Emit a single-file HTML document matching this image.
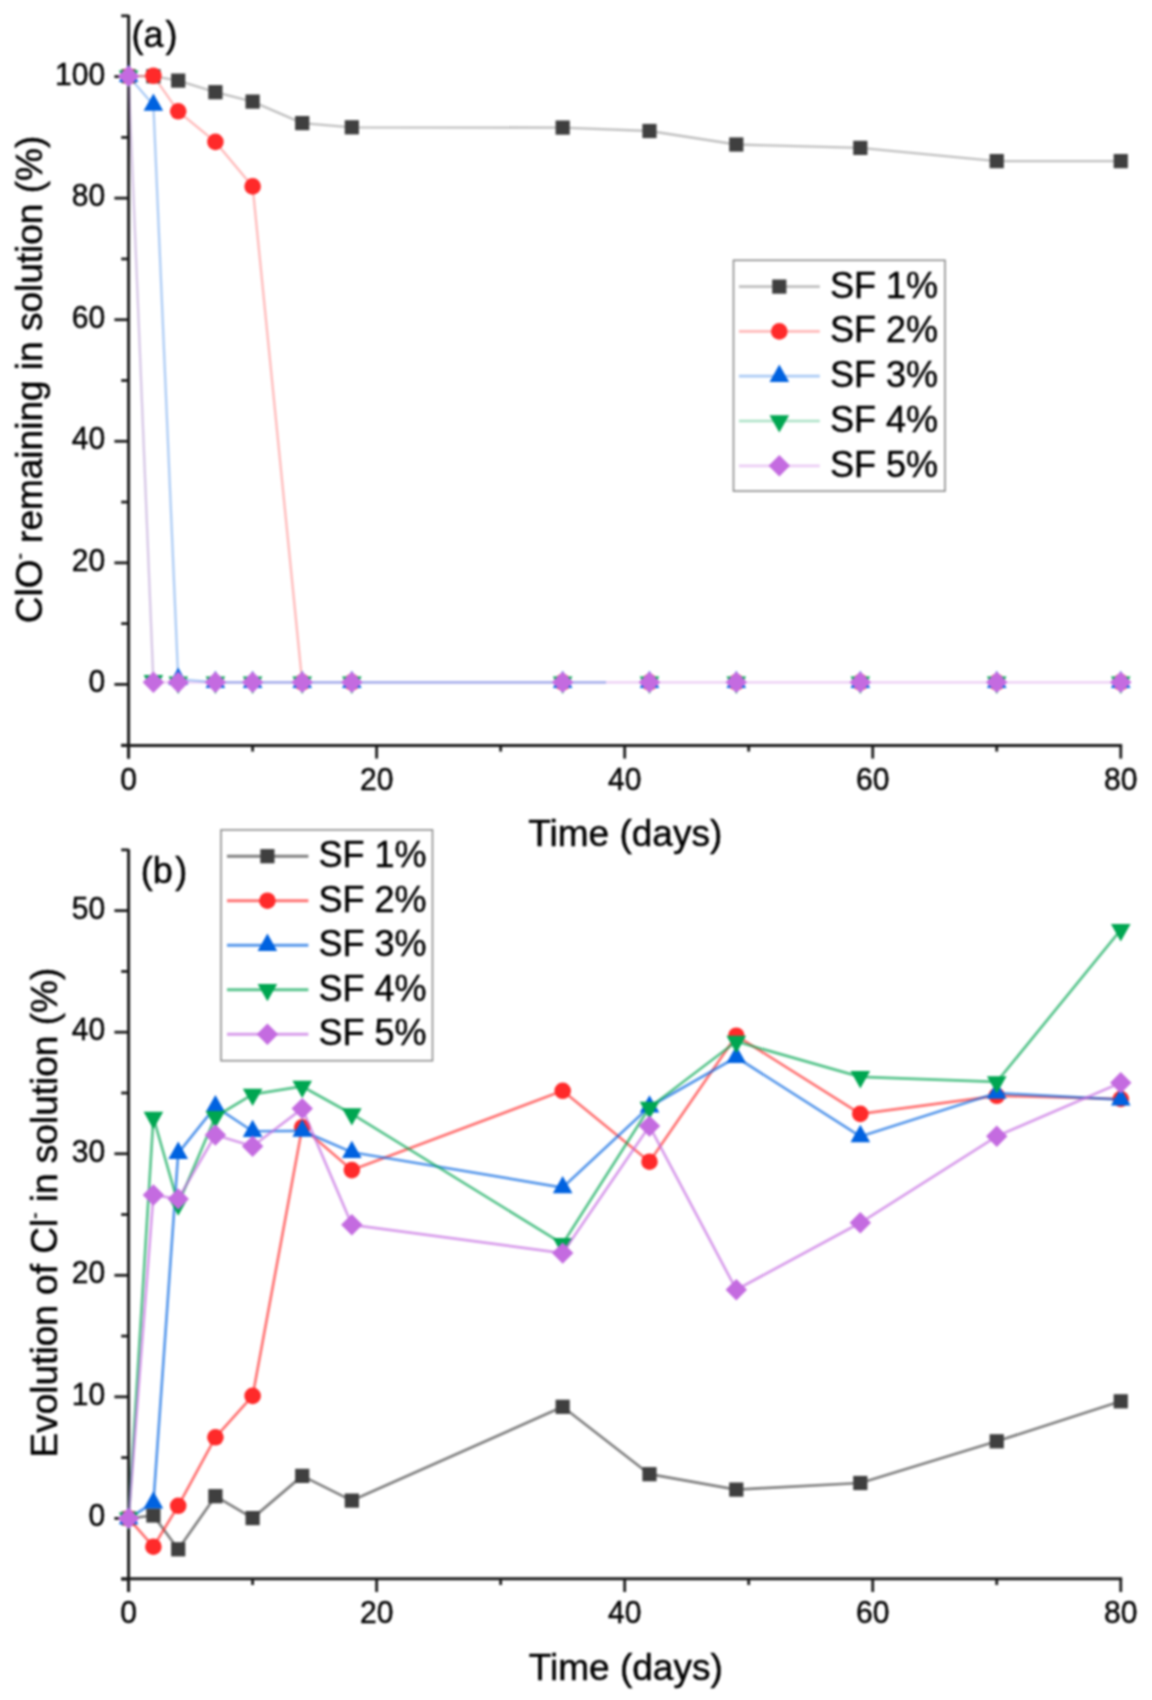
<!DOCTYPE html>
<html><head><meta charset="utf-8"><style>
html,body{margin:0;padding:0;background:#fff;}
svg{display:block;filter:blur(0.85px);}
text{font-family:"Liberation Sans",sans-serif;fill:#000;stroke:#000;stroke-width:0.45px;}
.t{font-size:31.6px;}
.lg{font-size:36px;}
.lab{font-size:36px;}
.ttl{font-size:37px;}
.ytl{font-size:37px;}
</style></head><body>
<svg width="1152" height="1700" viewBox="0 0 1152 1700">
<rect width="1152" height="1700" fill="#fff"/>
<line x1="128.6" y1="15.0" x2="128.6" y2="758.6" stroke="#1c1c1c" stroke-width="3.0"/>
<line x1="121.19999999999999" y1="745.4" x2="1122.16" y2="745.4" stroke="#1c1c1c" stroke-width="3.0"/>
<line x1="121.19999999999999" y1="745.18" x2="128.6" y2="745.18" stroke="#1c1c1c" stroke-width="2.8"/>
<line x1="114.39999999999999" y1="684.40" x2="128.6" y2="684.40" stroke="#1c1c1c" stroke-width="2.8"/>
<line x1="121.19999999999999" y1="623.62" x2="128.6" y2="623.62" stroke="#1c1c1c" stroke-width="2.8"/>
<line x1="114.39999999999999" y1="562.84" x2="128.6" y2="562.84" stroke="#1c1c1c" stroke-width="2.8"/>
<line x1="121.19999999999999" y1="502.06" x2="128.6" y2="502.06" stroke="#1c1c1c" stroke-width="2.8"/>
<line x1="114.39999999999999" y1="441.28" x2="128.6" y2="441.28" stroke="#1c1c1c" stroke-width="2.8"/>
<line x1="121.19999999999999" y1="380.50" x2="128.6" y2="380.50" stroke="#1c1c1c" stroke-width="2.8"/>
<line x1="114.39999999999999" y1="319.72" x2="128.6" y2="319.72" stroke="#1c1c1c" stroke-width="2.8"/>
<line x1="121.19999999999999" y1="258.94" x2="128.6" y2="258.94" stroke="#1c1c1c" stroke-width="2.8"/>
<line x1="114.39999999999999" y1="198.16" x2="128.6" y2="198.16" stroke="#1c1c1c" stroke-width="2.8"/>
<line x1="121.19999999999999" y1="137.38" x2="128.6" y2="137.38" stroke="#1c1c1c" stroke-width="2.8"/>
<line x1="114.39999999999999" y1="76.60" x2="128.6" y2="76.60" stroke="#1c1c1c" stroke-width="2.8"/>
<path d="M121.19999999999999,15.82H128.6" stroke="#1c1c1c" stroke-width="2.8" fill="none"/>
<text transform="matrix(0.95 0 0 1 105.1 692.30)" text-anchor="end" class="t">0</text>
<text transform="matrix(0.95 0 0 1 105.1 570.74)" text-anchor="end" class="t">20</text>
<text transform="matrix(0.95 0 0 1 105.1 449.18)" text-anchor="end" class="t">40</text>
<text transform="matrix(0.95 0 0 1 105.1 327.62)" text-anchor="end" class="t">60</text>
<text transform="matrix(0.95 0 0 1 105.1 206.06)" text-anchor="end" class="t">80</text>
<text transform="matrix(0.95 0 0 1 105.1 84.50)" text-anchor="end" class="t">100</text>
<line x1="128.60" y1="745.4" x2="128.60" y2="758.6" stroke="#1c1c1c" stroke-width="2.8"/>
<text transform="matrix(0.95 0 0 1 128.60 789.70)" text-anchor="middle" class="t">0</text>
<line x1="252.62" y1="745.4" x2="252.62" y2="751.6" stroke="#1c1c1c" stroke-width="2.8"/>
<line x1="376.64" y1="745.4" x2="376.64" y2="758.6" stroke="#1c1c1c" stroke-width="2.8"/>
<text transform="matrix(0.95 0 0 1 376.64 789.70)" text-anchor="middle" class="t">20</text>
<line x1="500.66" y1="745.4" x2="500.66" y2="751.6" stroke="#1c1c1c" stroke-width="2.8"/>
<line x1="624.68" y1="745.4" x2="624.68" y2="758.6" stroke="#1c1c1c" stroke-width="2.8"/>
<text transform="matrix(0.95 0 0 1 624.68 789.70)" text-anchor="middle" class="t">40</text>
<line x1="748.70" y1="745.4" x2="748.70" y2="751.6" stroke="#1c1c1c" stroke-width="2.8"/>
<line x1="872.72" y1="745.4" x2="872.72" y2="758.6" stroke="#1c1c1c" stroke-width="2.8"/>
<text transform="matrix(0.95 0 0 1 872.72 789.70)" text-anchor="middle" class="t">60</text>
<line x1="996.74" y1="745.4" x2="996.74" y2="751.6" stroke="#1c1c1c" stroke-width="2.8"/>
<line x1="1120.76" y1="745.4" x2="1120.76" y2="758.6" stroke="#1c1c1c" stroke-width="2.8"/>
<text transform="matrix(0.95 0 0 1 1120.76 789.70)" text-anchor="middle" class="t">80</text>
<polyline points="128.60,76.20 153.40,76.20 178.21,80.60 215.41,92.20 252.62,101.60 302.23,123.10 351.84,127.30 562.67,127.60 649.48,131.00 736.30,144.50 860.32,147.90 996.74,161.10 1120.76,161.10" fill="none" stroke="#3f3f3f" stroke-opacity="0.33" stroke-width="2.3" stroke-linejoin="round"/>
<polyline points="128.60,76.20 153.40,75.80 178.21,111.30 215.41,141.90 252.62,186.40 302.23,682.30" fill="none" stroke="#ff2a2a" stroke-opacity="0.33" stroke-width="2.3" stroke-linejoin="round"/>
<polyline points="128.60,76.20 153.40,682.30" fill="none" stroke="#00a651" stroke-opacity="0.12" stroke-width="2.3" stroke-linejoin="round"/>
<polyline points="128.60,76.20 153.40,682.30 178.21,682.30 215.41,682.30 252.62,682.30 302.23,682.30 351.84,682.30 562.67,682.30 649.48,682.30 736.30,682.30 860.32,682.30 996.74,682.30 1120.76,682.30" fill="none" stroke="#c46be0" stroke-opacity="0.33" stroke-width="2.3" stroke-linejoin="round"/>
<polyline points="128.60,76.20 153.40,105.05 178.21,679.20 215.41,682.30" fill="none" stroke="#0062e0" stroke-opacity="0.33" stroke-width="2.3" stroke-linejoin="round"/>
<line x1="215.41" y1="682.3" x2="606" y2="682.3" stroke="#9eaaea" stroke-width="2.3"/>
<rect x="121.50" y="69.10" width="14.2" height="14.2" fill="#3f3f3f"/>
<rect x="146.30" y="69.10" width="14.2" height="14.2" fill="#3f3f3f"/>
<rect x="171.11" y="73.50" width="14.2" height="14.2" fill="#3f3f3f"/>
<rect x="208.31" y="85.10" width="14.2" height="14.2" fill="#3f3f3f"/>
<rect x="245.52" y="94.50" width="14.2" height="14.2" fill="#3f3f3f"/>
<rect x="295.13" y="116.00" width="14.2" height="14.2" fill="#3f3f3f"/>
<rect x="344.74" y="120.20" width="14.2" height="14.2" fill="#3f3f3f"/>
<rect x="555.57" y="120.50" width="14.2" height="14.2" fill="#3f3f3f"/>
<rect x="642.38" y="123.90" width="14.2" height="14.2" fill="#3f3f3f"/>
<rect x="729.20" y="137.40" width="14.2" height="14.2" fill="#3f3f3f"/>
<rect x="853.22" y="140.80" width="14.2" height="14.2" fill="#3f3f3f"/>
<rect x="989.64" y="154.00" width="14.2" height="14.2" fill="#3f3f3f"/>
<rect x="1113.66" y="154.00" width="14.2" height="14.2" fill="#3f3f3f"/>
<circle cx="128.60" cy="76.20" r="8.3" fill="#ff2a2a"/>
<circle cx="153.40" cy="75.80" r="8.3" fill="#ff2a2a"/>
<circle cx="178.21" cy="111.30" r="8.3" fill="#ff2a2a"/>
<circle cx="215.41" cy="141.90" r="8.3" fill="#ff2a2a"/>
<circle cx="252.62" cy="186.40" r="8.3" fill="#ff2a2a"/>
<circle cx="302.23" cy="682.30" r="8.3" fill="#ff2a2a"/>
<circle cx="351.84" cy="682.30" r="8.3" fill="#ff2a2a"/>
<circle cx="562.67" cy="682.30" r="8.3" fill="#ff2a2a"/>
<circle cx="649.48" cy="682.30" r="8.3" fill="#ff2a2a"/>
<circle cx="736.30" cy="682.30" r="8.3" fill="#ff2a2a"/>
<circle cx="860.32" cy="682.30" r="8.3" fill="#ff2a2a"/>
<circle cx="996.74" cy="682.30" r="8.3" fill="#ff2a2a"/>
<circle cx="1120.76" cy="682.30" r="8.3" fill="#ff2a2a"/>
<path d="M128.60,64.60L138.40,82.00L118.80,82.00Z" fill="#0062e0"/>
<path d="M153.40,93.45L163.20,110.85L143.60,110.85Z" fill="#0062e0"/>
<path d="M178.21,667.60L188.01,685.00L168.41,685.00Z" fill="#0062e0"/>
<path d="M215.41,670.70L225.21,688.10L205.61,688.10Z" fill="#0062e0"/>
<path d="M252.62,670.70L262.42,688.10L242.82,688.10Z" fill="#0062e0"/>
<path d="M302.23,670.70L312.03,688.10L292.43,688.10Z" fill="#0062e0"/>
<path d="M351.84,670.70L361.64,688.10L342.04,688.10Z" fill="#0062e0"/>
<path d="M562.67,670.70L572.47,688.10L552.87,688.10Z" fill="#0062e0"/>
<path d="M649.48,670.70L659.28,688.10L639.68,688.10Z" fill="#0062e0"/>
<path d="M736.30,670.70L746.10,688.10L726.50,688.10Z" fill="#0062e0"/>
<path d="M860.32,670.70L870.12,688.10L850.52,688.10Z" fill="#0062e0"/>
<path d="M996.74,670.70L1006.54,688.10L986.94,688.10Z" fill="#0062e0"/>
<path d="M1120.76,670.70L1130.56,688.10L1110.96,688.10Z" fill="#0062e0"/>
<path d="M128.60,87.80L138.40,70.40L118.80,70.40Z" fill="#00a651"/>
<path d="M153.40,692.40L163.20,675.00L143.60,675.00Z" fill="#00a651"/>
<path d="M178.21,693.90L188.01,676.50L168.41,676.50Z" fill="#00a651"/>
<path d="M215.41,693.90L225.21,676.50L205.61,676.50Z" fill="#00a651"/>
<path d="M252.62,693.90L262.42,676.50L242.82,676.50Z" fill="#00a651"/>
<path d="M302.23,693.90L312.03,676.50L292.43,676.50Z" fill="#00a651"/>
<path d="M351.84,693.90L361.64,676.50L342.04,676.50Z" fill="#00a651"/>
<path d="M562.67,693.90L572.47,676.50L552.87,676.50Z" fill="#00a651"/>
<path d="M649.48,693.90L659.28,676.50L639.68,676.50Z" fill="#00a651"/>
<path d="M736.30,693.90L746.10,676.50L726.50,676.50Z" fill="#00a651"/>
<path d="M860.32,693.90L870.12,676.50L850.52,676.50Z" fill="#00a651"/>
<path d="M996.74,693.90L1006.54,676.50L986.94,676.50Z" fill="#00a651"/>
<path d="M1120.76,693.90L1130.56,676.50L1110.96,676.50Z" fill="#00a651"/>
<path d="M128.60,65.50L139.30,76.20L128.60,86.90L117.90,76.20Z" fill="#c46be0"/>
<path d="M153.40,671.60L164.10,682.30L153.40,693.00L142.70,682.30Z" fill="#c46be0"/>
<path d="M178.21,671.60L188.91,682.30L178.21,693.00L167.51,682.30Z" fill="#c46be0"/>
<path d="M215.41,671.60L226.11,682.30L215.41,693.00L204.71,682.30Z" fill="#c46be0"/>
<path d="M252.62,671.60L263.32,682.30L252.62,693.00L241.92,682.30Z" fill="#c46be0"/>
<path d="M302.23,671.60L312.93,682.30L302.23,693.00L291.53,682.30Z" fill="#c46be0"/>
<path d="M351.84,671.60L362.54,682.30L351.84,693.00L341.14,682.30Z" fill="#c46be0"/>
<path d="M562.67,671.60L573.37,682.30L562.67,693.00L551.97,682.30Z" fill="#c46be0"/>
<path d="M649.48,671.60L660.18,682.30L649.48,693.00L638.78,682.30Z" fill="#c46be0"/>
<path d="M736.30,671.60L747.00,682.30L736.30,693.00L725.60,682.30Z" fill="#c46be0"/>
<path d="M860.32,671.60L871.02,682.30L860.32,693.00L849.62,682.30Z" fill="#c46be0"/>
<path d="M996.74,671.60L1007.44,682.30L996.74,693.00L986.04,682.30Z" fill="#c46be0"/>
<path d="M1120.76,671.60L1131.46,682.30L1120.76,693.00L1110.06,682.30Z" fill="#c46be0"/>
<rect x="733.5" y="260.3" width="211.5" height="230.8" fill="#fff" stroke="#8c8c8c" stroke-width="1.6"/>
<line x1="738.9" y1="286.60" x2="819.8" y2="286.60" stroke="#3f3f3f" stroke-opacity="0.33" stroke-width="2.7"/>
<rect x="772.20" y="279.50" width="14.2" height="14.2" fill="#3f3f3f"/>
<text x="830.1" y="297.50" class="lg">SF 1%</text>
<line x1="738.9" y1="331.40" x2="819.8" y2="331.40" stroke="#ff2a2a" stroke-opacity="0.33" stroke-width="2.7"/>
<circle cx="779.30" cy="331.40" r="8.3" fill="#ff2a2a"/>
<text x="830.1" y="342.30" class="lg">SF 2%</text>
<line x1="738.9" y1="376.20" x2="819.8" y2="376.20" stroke="#0062e0" stroke-opacity="0.33" stroke-width="2.7"/>
<path d="M779.30,364.60L789.10,382.00L769.50,382.00Z" fill="#0062e0"/>
<text x="830.1" y="387.10" class="lg">SF 3%</text>
<line x1="738.9" y1="421.00" x2="819.8" y2="421.00" stroke="#00a651" stroke-opacity="0.33" stroke-width="2.7"/>
<path d="M779.30,432.60L789.10,415.20L769.50,415.20Z" fill="#00a651"/>
<text x="830.1" y="431.90" class="lg">SF 4%</text>
<line x1="738.9" y1="465.80" x2="819.8" y2="465.80" stroke="#c46be0" stroke-opacity="0.33" stroke-width="2.7"/>
<path d="M779.30,455.10L790.00,465.80L779.30,476.50L768.60,465.80Z" fill="#c46be0"/>
<text x="830.1" y="476.70" class="lg">SF 5%</text>
<text x="131.4" y="47.0" class="lab">(a<tspan dx="2">)</tspan></text>
<text x="625.3" y="845.6" text-anchor="middle" class="ttl">Time (days)</text>
<text transform="translate(42.3,379.5) rotate(-90)" text-anchor="middle" class="ytl">ClO<tspan dy="-16" font-size="19">-</tspan><tspan dy="16"> remaining in solution (%)</tspan></text>
<line x1="128.6" y1="849.3" x2="128.6" y2="1592.0" stroke="#1c1c1c" stroke-width="3.0"/>
<line x1="121.19999999999999" y1="1578.8" x2="1122.16" y2="1578.8" stroke="#1c1c1c" stroke-width="3.0"/>
<line x1="121.19999999999999" y1="1579.18" x2="128.6" y2="1579.18" stroke="#1c1c1c" stroke-width="2.8"/>
<line x1="114.39999999999999" y1="1518.40" x2="128.6" y2="1518.40" stroke="#1c1c1c" stroke-width="2.8"/>
<line x1="121.19999999999999" y1="1457.62" x2="128.6" y2="1457.62" stroke="#1c1c1c" stroke-width="2.8"/>
<line x1="114.39999999999999" y1="1396.85" x2="128.6" y2="1396.85" stroke="#1c1c1c" stroke-width="2.8"/>
<line x1="121.19999999999999" y1="1336.08" x2="128.6" y2="1336.08" stroke="#1c1c1c" stroke-width="2.8"/>
<line x1="114.39999999999999" y1="1275.30" x2="128.6" y2="1275.30" stroke="#1c1c1c" stroke-width="2.8"/>
<line x1="121.19999999999999" y1="1214.53" x2="128.6" y2="1214.53" stroke="#1c1c1c" stroke-width="2.8"/>
<line x1="114.39999999999999" y1="1153.75" x2="128.6" y2="1153.75" stroke="#1c1c1c" stroke-width="2.8"/>
<line x1="121.19999999999999" y1="1092.98" x2="128.6" y2="1092.98" stroke="#1c1c1c" stroke-width="2.8"/>
<line x1="114.39999999999999" y1="1032.20" x2="128.6" y2="1032.20" stroke="#1c1c1c" stroke-width="2.8"/>
<line x1="121.19999999999999" y1="971.43" x2="128.6" y2="971.43" stroke="#1c1c1c" stroke-width="2.8"/>
<line x1="114.39999999999999" y1="910.65" x2="128.6" y2="910.65" stroke="#1c1c1c" stroke-width="2.8"/>
<path d="M121.19999999999999,849.88H128.6" stroke="#1c1c1c" stroke-width="2.8" fill="none"/>
<text transform="matrix(0.95 0 0 1 105.1 1526.30)" text-anchor="end" class="t">0</text>
<text transform="matrix(0.95 0 0 1 105.1 1404.75)" text-anchor="end" class="t">10</text>
<text transform="matrix(0.95 0 0 1 105.1 1283.20)" text-anchor="end" class="t">20</text>
<text transform="matrix(0.95 0 0 1 105.1 1161.65)" text-anchor="end" class="t">30</text>
<text transform="matrix(0.95 0 0 1 105.1 1040.10)" text-anchor="end" class="t">40</text>
<text transform="matrix(0.95 0 0 1 105.1 918.55)" text-anchor="end" class="t">50</text>
<line x1="128.60" y1="1578.8" x2="128.60" y2="1592.0" stroke="#1c1c1c" stroke-width="2.8"/>
<text transform="matrix(0.95 0 0 1 128.60 1623.10)" text-anchor="middle" class="t">0</text>
<line x1="252.62" y1="1578.8" x2="252.62" y2="1585.0" stroke="#1c1c1c" stroke-width="2.8"/>
<line x1="376.64" y1="1578.8" x2="376.64" y2="1592.0" stroke="#1c1c1c" stroke-width="2.8"/>
<text transform="matrix(0.95 0 0 1 376.64 1623.10)" text-anchor="middle" class="t">20</text>
<line x1="500.66" y1="1578.8" x2="500.66" y2="1585.0" stroke="#1c1c1c" stroke-width="2.8"/>
<line x1="624.68" y1="1578.8" x2="624.68" y2="1592.0" stroke="#1c1c1c" stroke-width="2.8"/>
<text transform="matrix(0.95 0 0 1 624.68 1623.10)" text-anchor="middle" class="t">40</text>
<line x1="748.70" y1="1578.8" x2="748.70" y2="1585.0" stroke="#1c1c1c" stroke-width="2.8"/>
<line x1="872.72" y1="1578.8" x2="872.72" y2="1592.0" stroke="#1c1c1c" stroke-width="2.8"/>
<text transform="matrix(0.95 0 0 1 872.72 1623.10)" text-anchor="middle" class="t">60</text>
<line x1="996.74" y1="1578.8" x2="996.74" y2="1585.0" stroke="#1c1c1c" stroke-width="2.8"/>
<line x1="1120.76" y1="1578.8" x2="1120.76" y2="1592.0" stroke="#1c1c1c" stroke-width="2.8"/>
<text transform="matrix(0.95 0 0 1 1120.76 1623.10)" text-anchor="middle" class="t">80</text>
<polyline points="128.60,1518.40 153.40,1515.50 178.21,1549.30 215.41,1496.20 252.62,1518.10 302.23,1475.90 351.84,1500.60 562.67,1406.80 649.48,1474.20 736.30,1489.60 860.32,1483.00 996.74,1441.30 1120.76,1401.30" fill="none" stroke="#3f3f3f" stroke-opacity="0.66" stroke-width="2.7" stroke-linejoin="round"/>
<rect x="121.50" y="1511.30" width="14.2" height="14.2" fill="#3f3f3f"/>
<rect x="146.30" y="1508.40" width="14.2" height="14.2" fill="#3f3f3f"/>
<rect x="171.11" y="1542.20" width="14.2" height="14.2" fill="#3f3f3f"/>
<rect x="208.31" y="1489.10" width="14.2" height="14.2" fill="#3f3f3f"/>
<rect x="245.52" y="1511.00" width="14.2" height="14.2" fill="#3f3f3f"/>
<rect x="295.13" y="1468.80" width="14.2" height="14.2" fill="#3f3f3f"/>
<rect x="344.74" y="1493.50" width="14.2" height="14.2" fill="#3f3f3f"/>
<rect x="555.57" y="1399.70" width="14.2" height="14.2" fill="#3f3f3f"/>
<rect x="642.38" y="1467.10" width="14.2" height="14.2" fill="#3f3f3f"/>
<rect x="729.20" y="1482.50" width="14.2" height="14.2" fill="#3f3f3f"/>
<rect x="853.22" y="1475.90" width="14.2" height="14.2" fill="#3f3f3f"/>
<rect x="989.64" y="1434.20" width="14.2" height="14.2" fill="#3f3f3f"/>
<rect x="1113.66" y="1394.20" width="14.2" height="14.2" fill="#3f3f3f"/>
<polyline points="128.60,1518.40 153.40,1546.70 178.21,1505.80 215.41,1437.30 252.62,1395.90 302.23,1127.30 351.84,1170.10 562.67,1090.80 649.48,1161.70 736.30,1035.70 860.32,1113.90 996.74,1095.80 1120.76,1099.00" fill="none" stroke="#ff2a2a" stroke-opacity="0.66" stroke-width="2.7" stroke-linejoin="round"/>
<circle cx="128.60" cy="1518.40" r="8.3" fill="#ff2a2a"/>
<circle cx="153.40" cy="1546.70" r="8.3" fill="#ff2a2a"/>
<circle cx="178.21" cy="1505.80" r="8.3" fill="#ff2a2a"/>
<circle cx="215.41" cy="1437.30" r="8.3" fill="#ff2a2a"/>
<circle cx="252.62" cy="1395.90" r="8.3" fill="#ff2a2a"/>
<circle cx="302.23" cy="1127.30" r="8.3" fill="#ff2a2a"/>
<circle cx="351.84" cy="1170.10" r="8.3" fill="#ff2a2a"/>
<circle cx="562.67" cy="1090.80" r="8.3" fill="#ff2a2a"/>
<circle cx="649.48" cy="1161.70" r="8.3" fill="#ff2a2a"/>
<circle cx="736.30" cy="1035.70" r="8.3" fill="#ff2a2a"/>
<circle cx="860.32" cy="1113.90" r="8.3" fill="#ff2a2a"/>
<circle cx="996.74" cy="1095.80" r="8.3" fill="#ff2a2a"/>
<circle cx="1120.76" cy="1099.00" r="8.3" fill="#ff2a2a"/>
<polyline points="128.60,1518.40 153.40,1502.75 178.21,1153.15 215.41,1106.55 252.62,1131.25 302.23,1130.85 351.84,1152.25 562.67,1187.55 649.48,1106.75 736.30,1057.25 860.32,1136.45 996.74,1093.05 1120.76,1099.65" fill="none" stroke="#0062e0" stroke-opacity="0.66" stroke-width="2.7" stroke-linejoin="round"/>
<path d="M128.60,1506.80L138.40,1524.20L118.80,1524.20Z" fill="#0062e0"/>
<path d="M153.40,1491.15L163.20,1508.55L143.60,1508.55Z" fill="#0062e0"/>
<path d="M178.21,1141.55L188.01,1158.95L168.41,1158.95Z" fill="#0062e0"/>
<path d="M215.41,1094.95L225.21,1112.35L205.61,1112.35Z" fill="#0062e0"/>
<path d="M252.62,1119.65L262.42,1137.05L242.82,1137.05Z" fill="#0062e0"/>
<path d="M302.23,1119.25L312.03,1136.65L292.43,1136.65Z" fill="#0062e0"/>
<path d="M351.84,1140.65L361.64,1158.05L342.04,1158.05Z" fill="#0062e0"/>
<path d="M562.67,1175.95L572.47,1193.35L552.87,1193.35Z" fill="#0062e0"/>
<path d="M649.48,1095.15L659.28,1112.55L639.68,1112.55Z" fill="#0062e0"/>
<path d="M736.30,1045.65L746.10,1063.05L726.50,1063.05Z" fill="#0062e0"/>
<path d="M860.32,1124.85L870.12,1142.25L850.52,1142.25Z" fill="#0062e0"/>
<path d="M996.74,1081.45L1006.54,1098.85L986.94,1098.85Z" fill="#0062e0"/>
<path d="M1120.76,1088.05L1130.56,1105.45L1110.96,1105.45Z" fill="#0062e0"/>
<polyline points="128.60,1518.40 153.40,1117.55 178.21,1204.05 215.41,1116.75 252.62,1094.45 302.23,1086.45 351.84,1113.95 562.67,1243.85 649.48,1107.55 736.30,1041.55 860.32,1076.85 996.74,1081.95 1120.76,929.85" fill="none" stroke="#00a651" stroke-opacity="0.66" stroke-width="2.7" stroke-linejoin="round"/>
<path d="M128.60,1530.00L138.40,1512.60L118.80,1512.60Z" fill="#00a651"/>
<path d="M153.40,1129.15L163.20,1111.75L143.60,1111.75Z" fill="#00a651"/>
<path d="M178.21,1215.65L188.01,1198.25L168.41,1198.25Z" fill="#00a651"/>
<path d="M215.41,1128.35L225.21,1110.95L205.61,1110.95Z" fill="#00a651"/>
<path d="M252.62,1106.05L262.42,1088.65L242.82,1088.65Z" fill="#00a651"/>
<path d="M302.23,1098.05L312.03,1080.65L292.43,1080.65Z" fill="#00a651"/>
<path d="M351.84,1125.55L361.64,1108.15L342.04,1108.15Z" fill="#00a651"/>
<path d="M562.67,1255.45L572.47,1238.05L552.87,1238.05Z" fill="#00a651"/>
<path d="M649.48,1119.15L659.28,1101.75L639.68,1101.75Z" fill="#00a651"/>
<path d="M736.30,1053.15L746.10,1035.75L726.50,1035.75Z" fill="#00a651"/>
<path d="M860.32,1088.45L870.12,1071.05L850.52,1071.05Z" fill="#00a651"/>
<path d="M996.74,1093.55L1006.54,1076.15L986.94,1076.15Z" fill="#00a651"/>
<path d="M1120.76,941.45L1130.56,924.05L1110.96,924.05Z" fill="#00a651"/>
<polyline points="128.60,1518.40 153.40,1195.00 178.21,1198.90 215.41,1135.00 252.62,1146.30 302.23,1108.60 351.84,1224.80 562.67,1253.10 649.48,1126.10 736.30,1289.70 860.32,1222.80 996.74,1136.30 1120.76,1082.70" fill="none" stroke="#c46be0" stroke-opacity="0.66" stroke-width="2.7" stroke-linejoin="round"/>
<path d="M128.60,1507.70L139.30,1518.40L128.60,1529.10L117.90,1518.40Z" fill="#c46be0"/>
<path d="M153.40,1184.30L164.10,1195.00L153.40,1205.70L142.70,1195.00Z" fill="#c46be0"/>
<path d="M178.21,1188.20L188.91,1198.90L178.21,1209.60L167.51,1198.90Z" fill="#c46be0"/>
<path d="M215.41,1124.30L226.11,1135.00L215.41,1145.70L204.71,1135.00Z" fill="#c46be0"/>
<path d="M252.62,1135.60L263.32,1146.30L252.62,1157.00L241.92,1146.30Z" fill="#c46be0"/>
<path d="M302.23,1097.90L312.93,1108.60L302.23,1119.30L291.53,1108.60Z" fill="#c46be0"/>
<path d="M351.84,1214.10L362.54,1224.80L351.84,1235.50L341.14,1224.80Z" fill="#c46be0"/>
<path d="M562.67,1242.40L573.37,1253.10L562.67,1263.80L551.97,1253.10Z" fill="#c46be0"/>
<path d="M649.48,1115.40L660.18,1126.10L649.48,1136.80L638.78,1126.10Z" fill="#c46be0"/>
<path d="M736.30,1279.00L747.00,1289.70L736.30,1300.40L725.60,1289.70Z" fill="#c46be0"/>
<path d="M860.32,1212.10L871.02,1222.80L860.32,1233.50L849.62,1222.80Z" fill="#c46be0"/>
<path d="M996.74,1125.60L1007.44,1136.30L996.74,1147.00L986.04,1136.30Z" fill="#c46be0"/>
<path d="M1120.76,1072.00L1131.46,1082.70L1120.76,1093.40L1110.06,1082.70Z" fill="#c46be0"/>
<rect x="221.0" y="829.9" width="211.5" height="230.8" fill="#fff" stroke="#8c8c8c" stroke-width="1.6"/>
<line x1="227.0" y1="856.20" x2="308.4" y2="856.20" stroke="#3f3f3f" stroke-opacity="0.66" stroke-width="3.0"/>
<rect x="260.30" y="849.10" width="14.2" height="14.2" fill="#3f3f3f"/>
<text x="318.6" y="867.40" class="lg">SF 1%</text>
<line x1="227.0" y1="900.70" x2="308.4" y2="900.70" stroke="#ff2a2a" stroke-opacity="0.66" stroke-width="3.0"/>
<circle cx="267.40" cy="900.70" r="8.3" fill="#ff2a2a"/>
<text x="318.6" y="911.90" class="lg">SF 2%</text>
<line x1="227.0" y1="945.20" x2="308.4" y2="945.20" stroke="#0062e0" stroke-opacity="0.66" stroke-width="3.0"/>
<path d="M267.40,933.60L277.20,951.00L257.60,951.00Z" fill="#0062e0"/>
<text x="318.6" y="956.40" class="lg">SF 3%</text>
<line x1="227.0" y1="989.70" x2="308.4" y2="989.70" stroke="#00a651" stroke-opacity="0.66" stroke-width="3.0"/>
<path d="M267.40,1001.30L277.20,983.90L257.60,983.90Z" fill="#00a651"/>
<text x="318.6" y="1000.90" class="lg">SF 4%</text>
<line x1="227.0" y1="1034.20" x2="308.4" y2="1034.20" stroke="#c46be0" stroke-opacity="0.66" stroke-width="3.0"/>
<path d="M267.40,1023.50L278.10,1034.20L267.40,1044.90L256.70,1034.20Z" fill="#c46be0"/>
<text x="318.6" y="1045.40" class="lg">SF 5%</text>
<text x="140.7" y="883.2" class="lab">(b<tspan dx="2.5">)</tspan></text>
<text x="625.8" y="1679.6" text-anchor="middle" class="ttl">Time (days)</text>
<text transform="translate(57.4,1212.6) rotate(-90)" text-anchor="middle" class="ytl">Evolution of Cl<tspan dy="-16" font-size="19">-</tspan><tspan dy="16"> in solution (%)</tspan></text>
</svg>
</body></html>
